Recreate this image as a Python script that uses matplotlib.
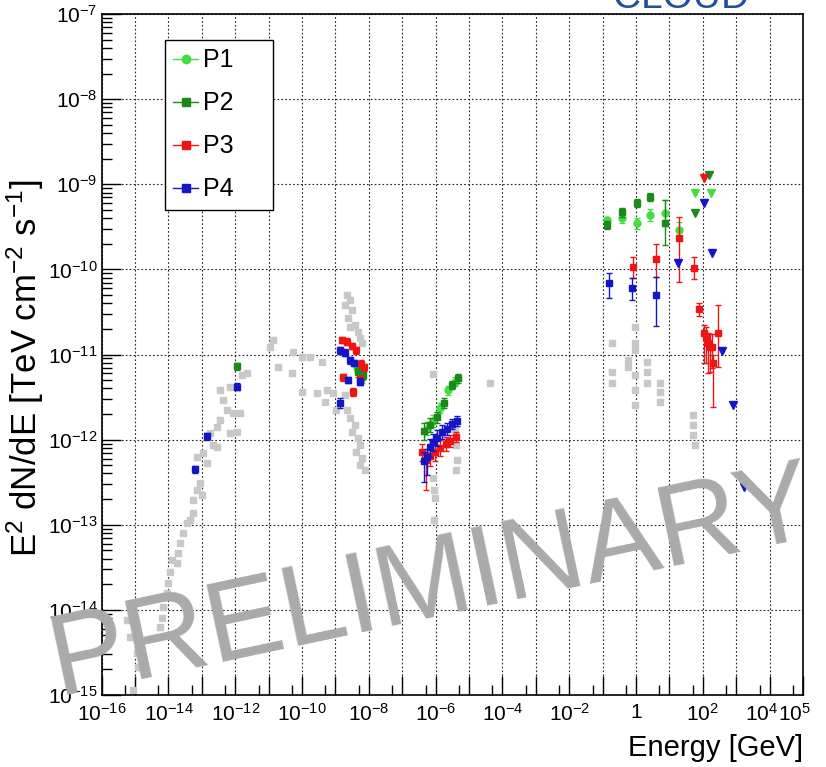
import numpy as np
import matplotlib
matplotlib.use('Agg')
import matplotlib.pyplot as plt
import matplotlib.transforms as mtransforms
from matplotlib.lines import Line2D

plt.rcParams['font.family'] = ['Liberation Sans', 'DejaVu Sans']
plt.rcParams['mathtext.fontset'] = 'custom'
plt.rcParams['mathtext.rm'] = 'Liberation Sans'
plt.rcParams['mathtext.it'] = 'Liberation Sans:italic'
plt.rcParams['mathtext.default'] = 'regular'

# all values are log10(E / GeV) and log10(E^2 dN/dE / TeV cm-2 s-1)
# archival data (grey)
gray_logE = [-15.24, -15.15, -14.94, -14.91, -15.06, -14.25, -14.19, -14.16, -14.05, -14.01,
             -13.96, -13.90, -13.75, -13.72, -13.66, -13.57, -13.45, -13.36, -13.27, -13.27,
             -13.15, -13.06, -13.00, -13.15, -12.97, -12.85, -12.55, -12.67,
             -12.46, -12.37, -12.25, -12.46, -12.55, -12.76, -12.16, -12.07, -11.86, -11.95,
             -12.16, -11.80, -11.65, -10.87, -10.96, -10.72, -10.30, -10.27, -10.00, -9.76,
             -10.00, -9.55, -9.40, -9.25, -9.07, -9.31, -8.98,
             -8.66, -8.57, -8.72, -8.51, -8.63, -8.42, -8.33, -8.27, -8.57, -8.21,
             -8.72, -8.66, -8.57, -8.42, -8.51, -8.33, -8.27, -8.39, -8.21, -8.27, -8.12,
             -6.08, -6.08, -6.05, -6.02, -6.05, -5.42, -5.39, -5.36, -5.39, -4.37,
             -0.72, -0.72, -0.72, -0.24, -0.24, -0.03, -0.03, -0.03, -0.03, -0.03, -0.03,
             0.33, 0.33, 0.33, 0.72, 0.72, 0.72, 1.70, 1.70, 1.70, 1.76]
gray_logF = [-14.12, -14.32, -14.51, -14.67, -14.94, -14.20, -14.09, -13.97, -13.80, -13.69,
             -13.56, -13.42, -13.45, -13.33, -13.22, -13.10, -12.98, -12.95, -12.86, -12.71,
             -12.59, -12.51, -12.65, -12.21, -12.16, -12.28, -12.09, -12.06,
             -11.42, -11.54, -11.65, -11.77, -11.85, -11.92, -11.38, -11.69, -11.69, -11.91,
             -11.92, -11.24, -11.22, -10.83, -10.91, -11.15, -11.22, -10.97, -11.03, -11.03,
             -11.44, -11.45, -11.09, -11.42, -11.45, -11.56, -11.65,
             -10.30, -10.36, -10.42, -10.48, -10.57, -10.65, -10.74, -10.81, -10.68, -10.87,
             -11.48, -11.65, -11.75, -11.83, -11.91, -11.98, -12.06, -12.15, -12.22, -12.30, -12.36,
             -11.23, -12.45, -12.59, -12.68, -12.95, -11.89, -12.06, -12.24, -12.36, -11.34,
             -10.87, -11.21, -11.34, -11.07, -11.15, -10.68, -10.87, -10.95, -11.24, -11.42, -11.59,
             -11.09, -11.21, -11.34, -11.34, -11.44, -11.56, -11.71, -11.83, -11.95, -12.06]

# P1
p1_logE = [-8.36, -8.21, -5.42, -5.63, -5.87, -6.08, -6.26, -0.87, -0.41, 0.03, 0.42, 0.87, 1.29]
p1_logF = [-11.16, -11.28, -11.32, -11.42, -11.63, -11.78, -11.87, -9.42, -9.40, -9.46, -9.36, -9.34, -9.54]
p1_lo = [0.05, 0.05, 0.05, 0.05, 0.06, 0.07, 0.08, 0.04, 0.05, 0.06, 0.07, 0.15, 0.12]
p1_hi = [0.05, 0.05, 0.05, 0.05, 0.06, 0.07, 0.08, 0.04, 0.05, 0.06, 0.07, 0.15, 0.10]
p1_ul_logE = [1.77, 2.25]
p1_ul_logF = [-9.10, -9.10]

# P2
p2_logE = [-11.95, -8.33, -8.18, -5.33, -5.51, -5.75, -5.96, -6.17, -6.35, -0.87, -0.41, 0.03, 0.42, 0.87]
p2_logF = [-11.14, -11.21, -11.24, -11.28, -11.36, -11.57, -11.74, -11.83, -11.90, -9.48, -9.33, -9.22, -9.15, -9.46]
p2_lo = [0.04, 0.05, 0.05, 0.05, 0.05, 0.06, 0.07, 0.08, 0.10, 0.05, 0.05, 0.05, 0.05, 0.25]
p2_hi = [0.04, 0.05, 0.05, 0.05, 0.05, 0.06, 0.07, 0.08, 0.10, 0.05, 0.05, 0.05, 0.05, 0.28]
p2_ul_logE = [1.77, 2.19]
p2_ul_logF = [-9.34, -8.89]

# P3
p3_logE = [-8.80, -8.65, -8.51, -8.39, -8.24, -8.15, -8.78, -8.27, -8.48,
           -5.39, -5.57, -5.69, -5.87, -6.02, -6.17, -6.29, -6.41,
           -0.09, 0.60, 1.29, 1.74, 1.89, 2.04, 2.10, 2.16, 2.27, 2.45, 2.22, 2.30]
p3_logF = [-10.83, -10.85, -10.90, -10.95, -11.11, -11.15, -11.27, -11.29, -11.44,
           -11.97, -12.02, -12.05, -12.10, -12.15, -12.19, -12.24, -12.15,
           -9.97, -9.88, -9.63, -9.985, -10.47, -10.75, -10.80, -10.87, -10.91, -10.75, -10.91, -11.10]
p3_lo = [0.04, 0.04, 0.04, 0.04, 0.04, 0.04, 0.04, 0.04, 0.05,
         0.06, 0.07, 0.08, 0.09, 0.10, 0.12, 0.35, 0.10,
         0.13, 0.21, 0.52, 0.13, 0.08, 0.35, 0.30, 0.35, 0.25, 0.40, 0.30, 0.52]
p3_hi = [0.04, 0.04, 0.04, 0.04, 0.04, 0.04, 0.04, 0.04, 0.05,
         0.06, 0.07, 0.08, 0.09, 0.10, 0.10, 0.10, 0.10,
         0.12, 0.18, 0.25, 0.13, 0.08, 0.10, 0.12, 0.12, 0.15, 0.33, 0.15, 0.10]
p3_ul_logE = [2.04]
p3_ul_logF = [-8.93]

# P4
p4_logE = [-13.21, -12.84, -11.95, -8.87, -8.72, -8.57, -8.45, -8.63, -8.27, -8.87,
           -5.36, -5.51, -5.66, -5.81, -5.96, -6.08, -6.17, -6.26, -6.35,
           -0.81, -0.12, 0.60]
p4_logF = [-12.35, -11.96, -11.38, -10.95, -10.98, -11.07, -11.10, -11.30, -11.32, -11.57,
           -11.78, -11.82, -11.87, -11.91, -11.98, -12.03, -12.09, -12.21, -12.25,
           -10.16, -10.22, -10.30]
p4_lo = [0.04, 0.04, 0.04, 0.04, 0.04, 0.04, 0.04, 0.04, 0.04, 0.06,
         0.06, 0.06, 0.07, 0.08, 0.09, 0.10, 0.12, 0.20, 0.25,
         0.18, 0.14, 0.37]
p4_hi = [0.04, 0.04, 0.04, 0.04, 0.04, 0.04, 0.04, 0.04, 0.04, 0.06,
         0.06, 0.06, 0.07, 0.08, 0.09, 0.10, 0.10, 0.10, 0.10,
         0.12, 0.12, 0.21]
p4_ul_logE = [2.04, 2.27, 1.26, 2.57, 2.90, 3.23]
p4_ul_logF = [-9.22, -9.81, -9.93, -10.96, -11.59, -12.56]

labels = ['P1', 'P2', 'P3', 'P4']
colors = ['#44dd44', '#1a8a1a', '#ee1515', '#1515c8']
markers = ['o', 's', 's', 's']


def draw_phase(ax, logE, logF, lo, hi, ul_logE, ul_logF, color, marker, z):
    E = 10.0 ** np.array(logE)
    F = 10.0 ** np.array(logF)
    yerr = [F * (1 - 10.0 ** -np.array(lo)), F * (10.0 ** np.array(hi) - 1)]
    ax.errorbar(E, F, yerr=yerr, fmt=marker, color=color, ms=5, mec=color,
                elinewidth=1, capsize=2.5, capthick=1, zorder=z)
    ax.plot(10.0 ** np.array(ul_logE), 10.0 ** np.array(ul_logF), 'v', color=color,
            ms=6, zorder=z)


fig = plt.figure(figsize=(8.26, 7.67), dpi=100)
ax = fig.add_axes([0.1231, 0.0939, 0.8491, 0.8878])
ax.set_xscale('log')
ax.set_yscale('log')
ax.set_xlim(1e-16, 1e5)
ax.set_ylim(1e-15, 1e-7)

ax.plot(10.0 ** np.array(gray_logE), 10.0 ** np.array(gray_logF), 's', color='#c8c8c8',
        ms=5, zorder=2)

phase_data = [
    (p1_logE, p1_logF, p1_lo, p1_hi, p1_ul_logE, p1_ul_logF),
    (p2_logE, p2_logF, p2_lo, p2_hi, p2_ul_logE, p2_ul_logF),
    (p3_logE, p3_logF, p3_lo, p3_hi, p3_ul_logE, p3_ul_logF),
    (p4_logE, p4_logF, p4_lo, p4_hi, p4_ul_logE, p4_ul_logF),
]
for i, d in enumerate(phase_data):
    draw_phase(ax, *d, colors[i], markers[i], 3 + i)

# ticks like ROOT
xdec = list(range(-16, 6))
xlabels = []
for k in xdec:
    if k == 0:
        xlabels.append('1')
    elif k % 2 == 0 or k == 5:
        xlabels.append('$10^{%d}$' % k)
    else:
        xlabels.append('')
ax.set_xticks([10.0 ** k for k in xdec])
ax.set_xticklabels(xlabels)
ax.set_xticks([5 * 10.0 ** k for k in range(-16, 5)], minor=True)
ax.xaxis.set_minor_formatter(plt.NullFormatter())
ydec = list(range(-15, -6))
ax.set_yticks([10.0 ** k for k in ydec])
ax.set_yticklabels(['$10^{%d}$' % k for k in ydec])
ax.set_yticks([m * 10.0 ** k for k in range(-15, -7) for m in range(2, 10)], minor=True)
ax.yaxis.set_minor_formatter(plt.NullFormatter())

ax.tick_params(which='both', direction='in', top=False, right=False, labelsize=15, width=1)
ax.tick_params(which='major', length=14)
ax.tick_params(axis='x', which='major', pad=6)
ax.tick_params(axis='y', which='major', pad=3)
ax.tick_params(which='minor', length=7)

# 10^4 / 10^5 labels nudged left like the original
for k in (4, 5):
    lab = ax.get_xticklabels()[xdec.index(k)]
    lab.set_transform(lab.get_transform() + mtransforms.ScaledTranslation(-6 / 72, 0, fig.dpi_scale_trans))

ax.grid(True, which='major', color='#222222', linestyle=(0, (1.5, 2)), linewidth=0.8)
for sp in ax.spines.values():
    sp.set_linewidth(1.2)

ax.set_xlabel('Energy [GeV]', fontsize=21, loc='right', labelpad=6)
ax.set_ylabel('E$^{2}$ dN/dE [TeV cm$^{-2}$ s$^{-1}$]', fontsize=25)
ax.yaxis.set_label_coords(-0.080, 0.48)

handles = [Line2D([], [], color=colors[i], marker=markers[i], ms=6, lw=1) for i in range(4)]
leg = ax.legend(handles, labels, loc='upper left', bbox_to_anchor=(0.09, 0.705, 0.154, 0.257),
                mode='expand', borderaxespad=0, fontsize=18, frameon=True, fancybox=False,
                framealpha=1, edgecolor='black', handlelength=1.0, handletextpad=0.2,
                labelspacing=0.76, borderpad=0.34)
leg.get_frame().set_linewidth(1.0)
leg.set_zorder(8)

fig.text(0.825, 0.9896, 'CLOUD', color='#1f4f9f', fontsize=28, ha='center', va='baseline')

fig.text(0.524, 0.237, 'PRELIMINARY', rotation=12, fontsize=83, color='#aaaaaa',
         ha='center', va='center', rotation_mode='anchor', zorder=10)

fig.savefig('out.png', dpi=100)
